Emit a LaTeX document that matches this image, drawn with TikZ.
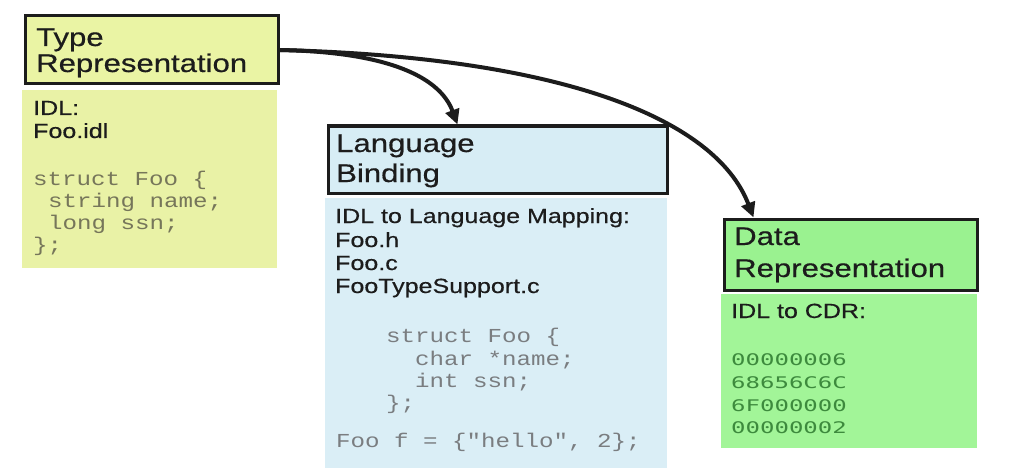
\documentclass[tikz,border=0pt]{standalone}
\usepackage{fontspec}
\setmainfont{Liberation Sans}[FakeStretch=1.22,FakeBold=0.5]
\newfontfamily\codefont{Liberation Mono}[FakeStretch=1.22]
\newfontfamily\hexfont{DejaVu Sans Mono}[FakeStretch=1.5]
\usetikzlibrary{arrows.meta}
\definecolor{yhdr}{HTML}{EAF4A4}
\definecolor{ybody}{HTML}{E9F2A6}
\definecolor{bhdr}{HTML}{D7EDF5}
\definecolor{bbody}{HTML}{DAEEF6}
\definecolor{ghdr}{HTML}{9AF290}
\definecolor{gbody}{HTML}{A2F598}
\definecolor{ycode}{HTML}{76765A}
\definecolor{bcode}{HTML}{7A7D80}
\definecolor{gcode}{HTML}{3D8A3D}
\definecolor{ink}{HTML}{1C1C1C}
\tikzset{
  hdrbox/.style={draw=ink, line width=3pt, inner sep=0pt, anchor=north west},
  bodybox/.style={inner sep=0pt, anchor=north west},
  hdrtext/.style={anchor=base west, inner sep=0pt, text=ink, font=\fontsize{25.5}{25.5}\selectfont},
  bodytext/.style={anchor=base west, inner sep=0pt, text=ink, font=\fontsize{20.5}{20.5}\selectfont},
  codetext/.style={anchor=base west, inner sep=0pt, font=\codefont\fontsize{19.8}{19.8}\selectfont},
  hextext/.style={anchor=base west, inner sep=0pt, text=gcode, font=\hexfont\fontsize{16}{16}\selectfont},
  link/.style={draw=ink, line width=4pt, -{Triangle[length=15pt,width=14pt]}}
}
\begin{document}
\begin{tikzpicture}[x=1pt,y=-1pt]
\useasboundingbox[fill=white] (0,0) rectangle (1011,468);
% boxes
\node[bodybox, fill=ybody, minimum width=255pt, minimum height=178pt] (tbody) at (22,90) {};
\node[hdrbox, fill=yhdr, minimum width=253pt, minimum height=68pt] (thdr) at (23.5,14.5) {};
\node[bodybox, fill=bbody, minimum width=342pt, minimum height=270pt] (lbody) at (325,198) {};
\node[hdrbox, fill=bhdr, minimum width=339pt, minimum height=67pt] (lhdr) at (326.5,124.5) {};
\node[bodybox, fill=gbody, minimum width=256pt, minimum height=154pt] (dbody) at (721,294) {};
\node[hdrbox, fill=ghdr, minimum width=253pt, minimum height=71pt] (dhdr) at (722.5,217.5) {};
% Type Representation
\node[hdrtext] (t1) at (36,46) {Type};
\node[hdrtext] (t2) at (36,72) {Representation};
\node[bodytext] (t3) at (33,115) {IDL:};
\node[bodytext] (t4) at (33,138) {Foo.idl};
\node[codetext, text=ycode] (t5) at (33,185) {struct Foo \{};
\node[codetext, text=ycode] (t6) at (48,207) {string name;};
\node[codetext, text=ycode] (t7) at (48,229) {long ssn;};
\node[codetext, text=ycode] (t8) at (33,251) {\};};
% Language Binding
\node[hdrtext] (l1) at (336,152) {Language};
\node[hdrtext] (l2) at (336,182) {Binding};
\node[bodytext] (l3) at (335,223) {IDL to Language Mapping:};
\node[bodytext] (l4) at (335,247) {Foo.h};
\node[bodytext] (l5) at (335,270) {Foo.c};
\node[bodytext] (l6) at (335,293) {FooTypeSupport.c};
\node[codetext, text=bcode] (l7) at (386,342) {struct Foo \{};
\node[codetext, text=bcode] (l8) at (415,365) {char *name;};
\node[codetext, text=bcode] (l9) at (415,387) {int ssn;};
\node[codetext, text=bcode] (l10) at (386,409) {\};};
\node[codetext, text=bcode] (l11) at (336,447) {Foo f = \{"hello", 2\};};
% Data Representation
\node[hdrtext] (d1) at (734,245) {Data};
\node[hdrtext] (d2) at (734,277) {Representation};
\node[bodytext] (d3) at (731,318) {IDL to CDR:};
\node[hextext] (d4) at (731,365) {00000006};
\node[hextext] (d5) at (731,388) {68656C6C};
\node[hextext] (d6) at (731,411) {6F000000};
\node[hextext] (d7) at (731,433) {00000002};
% connectors
\coordinate (tipL) at ([xshift=131pt]lhdr.north west);
\coordinate (tipD) at ([xshift=31pt]dhdr.north west);
\draw[link] (thdr.east) .. controls +(112,2) and +(-17,-46) .. (tipL);
\draw[link] (thdr.east) .. controls +(282,7) and +(-38,-99) .. (tipD);
\end{tikzpicture}
\end{document}
